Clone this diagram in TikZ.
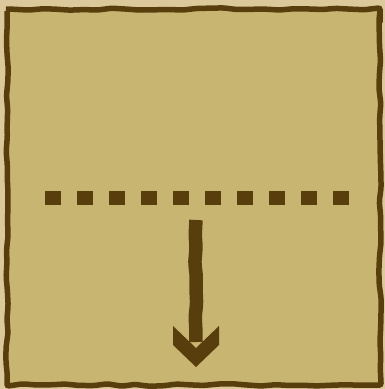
\documentclass[tikz,border=0pt]{standalone}
\usetikzlibrary{calc,decorations.pathmorphing}
\definecolor{paperTan}{HTML}{DCC99B}
\definecolor{boardTan}{HTML}{C8B572}
\definecolor{inkBrown}{HTML}{583E0C}
\tikzset{
    roughedge/.style={decorate,decoration={random steps,segment length=14pt,amplitude=1.2pt},
        rounded corners=2pt},
    board/.style={draw=inkBrown,fill=boardTan,line width=5.5pt,roughedge},
    cutline/.style={draw=inkBrown,line width=14pt,dash pattern=on 16pt off 16pt},
    shaft/.style={draw=inkBrown,line width=13.5pt,roughedge},
    headfill/.style={fill=inkBrown}
}
\pgfmathsetseed{7}
\begin{document}
\begin{tikzpicture}[x=1pt,y=-1pt]
    \fill[paperTan] (0,0) rectangle (385,389);
    \useasboundingbox (0,0) rectangle (385,389);

    % board with a wavy frame
    \draw[board] (7,9) rectangle (380,385);

    \coordinate (cutL) at (45,197.5);
    \coordinate (cutR) at (349,197.5);
    \coordinate (arrowTop) at (196,220);
    \coordinate (arrowEnd) at (196,342);
    \coordinate (arrowTip) at (196,367);

    \draw[cutline] (cutL) -- (cutR);

    \draw[shaft] (arrowTop) -- (arrowEnd);
    \fill[headfill] ($(arrowTip)+(-23,-41)$) -- ($(arrowTip)+(0,-19)$) -- ($(arrowTip)+(23,-41)$)
        -- ($(arrowTip)+(23,-22)$) -- (arrowTip) -- ($(arrowTip)+(-23,-22)$) -- cycle;
\end{tikzpicture}
\end{document}
